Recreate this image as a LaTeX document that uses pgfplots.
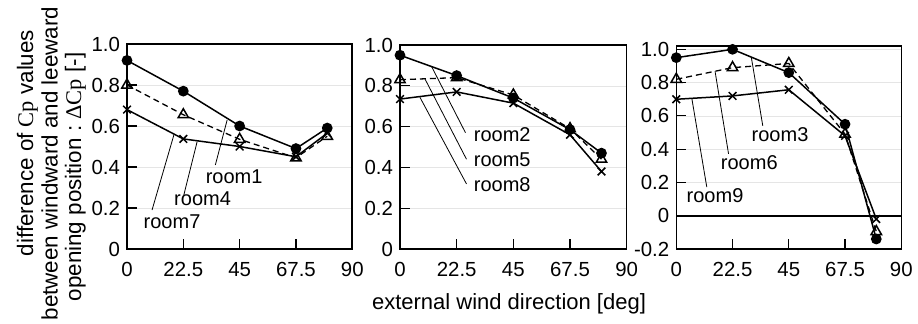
\documentclass[border=0pt]{standalone}
\usepackage{fontspec}
\setmainfont{Liberation Sans}
\newfontfamily\serif{Liberation Serif}
\usepackage{pgfplots}
\pgfplotsset{compat=1.18}
\tikzset{lead/.style={black, line width=0.4pt}}
\pgfplotsset{panel/.style={
  scale only axis, anchor=south west, clip=false,
  xmin=0, xmax=90, xtick={0,22.5,45,67.5,90}, xticklabels={0,22.5,45,67.5,90},
  tick align=inside, xtick pos=bottom, ytick pos=left, major tick length=5pt,
  ymajorgrids, grid style={black!10, line width=0.3pt},
  axis line style={line width=0.8pt}, tick style={black, line width=0.6pt},
  ticklabel style={font=\fontsize{10.2}{12}\selectfont},
  xticklabel style={yshift=-3.3pt},
  yticklabel style={xshift=0pt},
  /pgf/number format/assume math mode=true,
  every node/.append style={font=\fontsize{11}{13}\selectfont}},
  sA/.style={black, line width=0.75pt, mark=*, mark size=2.3pt},
  sB/.style={black, line width=0.65pt, dash pattern=on 3pt off 2pt, mark=triangle, mark size=3pt, mark options={solid, fill=white, line width=0.75pt}},
  sC/.style={black, line width=0.75pt, mark=x, mark size=2.7pt, mark options={solid}}
}
\begin{document}
\begin{tikzpicture}
\path[use as bounding box] (0pt,0pt) rectangle (459pt,161.5pt);
\begin{scope}[every node/.style={rotate=90, anchor=base, inner sep=0pt, font=\fontsize{11.2}{13}\selectfont}]
\node at (16.5pt,90pt) {difference of {\serif Cp} values};
\node at (28.75pt,79.75pt) {between windward and leeward};
\node at (40.5pt,73pt) {opening position :\ {\serif ΔCp} [-]};
\end{scope}
\node[anchor=base, inner sep=0pt, font=\fontsize{11}{13}\selectfont] at (254.5pt,7pt) {external wind direction [deg]};

% panel 1
\begin{axis}[panel, at={(63.5pt,37pt)}, width=112.65pt, height=102.5pt,
  ymin=0, ymax=1, ytick={0,0.2,0.4,0.6,0.8,1}, yticklabels={0,0.2,0.4,0.6,0.8,1.0}]
\addplot[sA] coordinates {(0,0.92)(22.5,0.77)(45,0.60)(67.5,0.49)(80,0.59)};
\addplot[sB] coordinates {(0,0.80)(22.5,0.655)(45,0.535)(67.5,0.445)(80,0.55)};
\addplot[sC] coordinates {(0,0.68)(22.5,0.537)(45,0.50)(67.5,0.45)(80,0.565)};
\draw[lead] (axis cs:35.3,0.41) -- (axis cs:40,0.629);
\draw[lead] (axis cs:22.7,0.263) -- (axis cs:28,0.523);
\draw[lead] (axis cs:10,0.19) -- (axis cs:18.7,0.555);
\node[inner sep=0pt] at (axis cs:42.8,0.354) {room1};
\node[inner sep=0pt] at (axis cs:30.2,0.247) {room4};
\node[inner sep=0pt] at (axis cs:18,0.132) {room7};
\end{axis}

% panel 2
\begin{axis}[panel, at={(200pt,37pt)}, width=113.35pt, height=102pt,
  ymin=0, ymax=1, ytick={0,0.2,0.4,0.6,0.8,1}, yticklabels={0,0.2,0.4,0.6,0.8,1.0}]
\addplot[sA] coordinates {(0,0.95)(22.5,0.85)(45,0.74)(67.5,0.585)(80,0.47)};
\addplot[sB] coordinates {(0,0.83)(22.5,0.84)(45,0.755)(67.5,0.59)(80,0.44)};
\addplot[sC] coordinates {(0,0.735)(22.5,0.77)(45,0.715)(67.5,0.56)(80,0.38)};
\draw[lead] (axis cs:26.0,0.570) -- (axis cs:12.6,0.893);
\draw[lead] (axis cs:26.4,0.44) -- (axis cs:9.9,0.834);
\draw[lead] (axis cs:26.4,0.319) -- (axis cs:7.9,0.744);
\node[inner sep=0pt] at (axis cs:40.6,0.559) {room2};
\node[inner sep=0pt] at (axis cs:40.6,0.436) {room5};
\node[inner sep=0pt] at (axis cs:40.6,0.314) {room8};
\end{axis}

% panel 3
\begin{axis}[panel, at={(338.15pt,37pt)}, width=112.5pt, height=101.5pt,
  ymin=-0.2, ymax=1.02, ytick={-0.2,0,0.2,0.4,0.6,0.8,1}, yticklabels={-0.2,0,0.2,0.4,0.6,0.8,1.0}]
\addplot[black, line width=0.9pt, forget plot] coordinates {(0,0)(90,0)};
\addplot[sA] coordinates {(0,0.95)(22.5,1.0)(45,0.86)(67.5,0.55)(80,-0.14)};
\addplot[sB] coordinates {(0,0.82)(22.5,0.89)(45,0.915)(67.5,0.49)(80,-0.095)};
\addplot[sC] coordinates {(0,0.70)(22.5,0.72)(45,0.757)(67.5,0.48)(80,-0.02)};
\draw[lead] (axis cs:34.6,0.54) -- (axis cs:30.0,0.953);
\draw[lead] (axis cs:20.9,0.372) -- (axis cs:15.5,0.868);
\draw[lead] (axis cs:12.2,0.172) -- (axis cs:6.2,0.706);
\node[inner sep=0pt] at (axis cs:41.5,0.486) {room3};
\node[inner sep=0pt] at (axis cs:29.2,0.318) {room6};
\node[inner sep=0pt] at (axis cs:15.5,0.12) {room9};
\end{axis}
\end{tikzpicture}
\end{document}
